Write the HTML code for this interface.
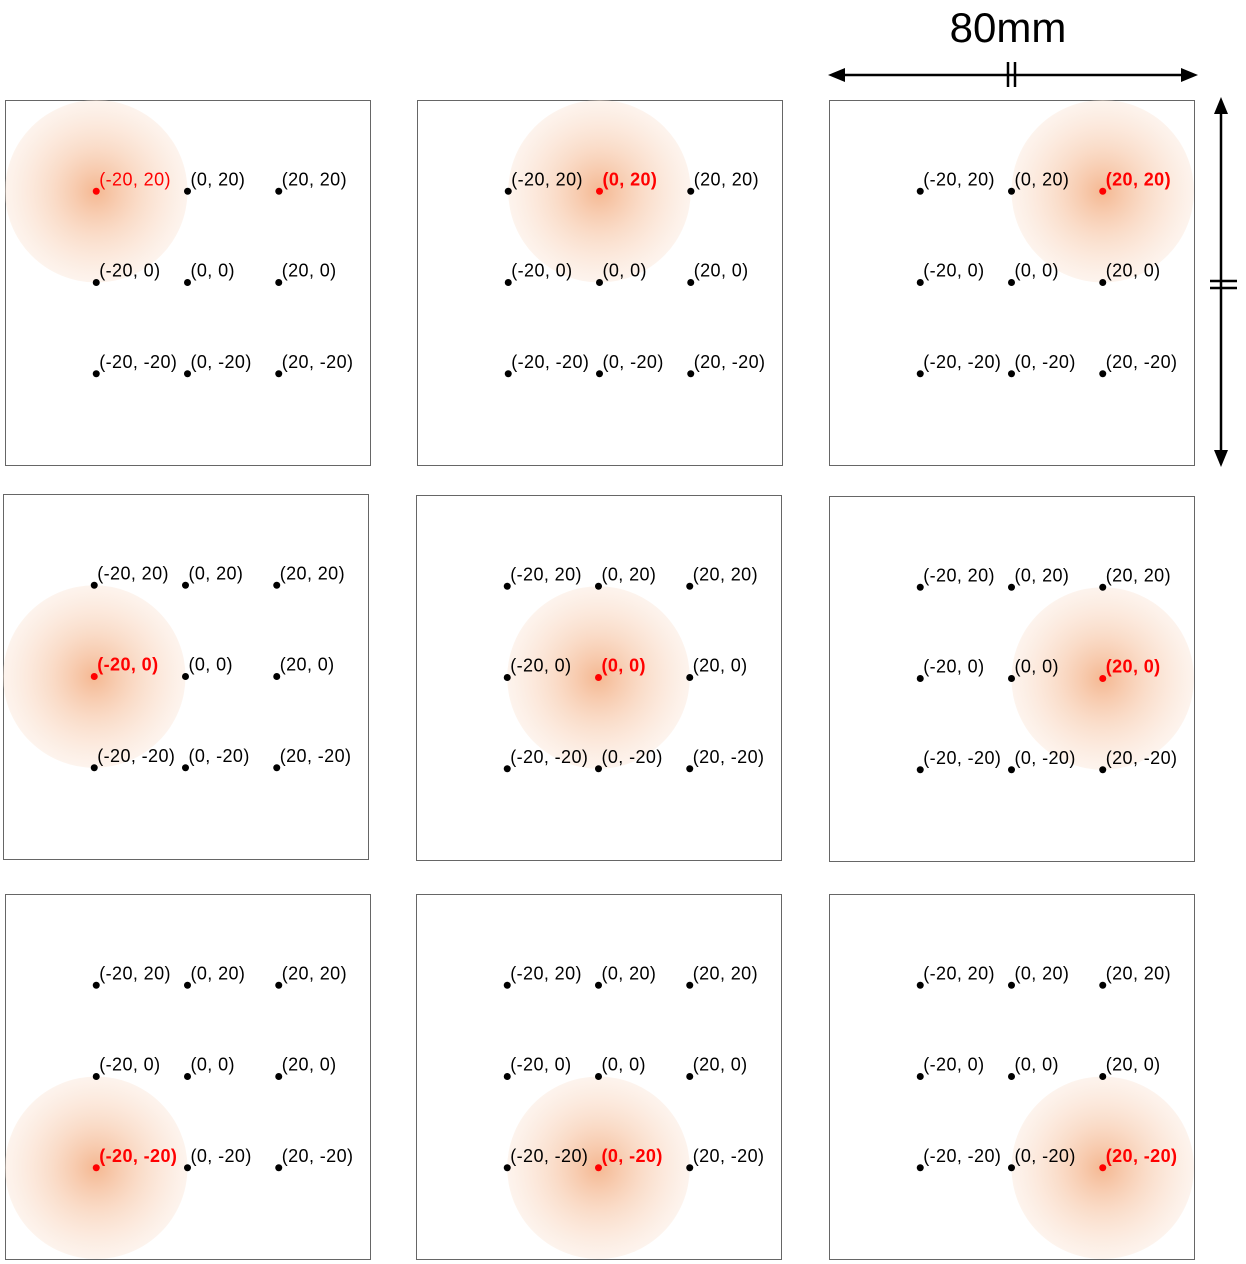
<!DOCTYPE html>
<html><head><meta charset="utf-8">
<style>
html,body{margin:0;padding:0;background:#fff;}
svg{display:block;font-family:"Liberation Sans","DejaVu Sans",sans-serif;}
</style></head>
<body>
<svg id="chart" width="1246" height="1264" viewBox="0 0 1246 1264" xmlns="http://www.w3.org/2000/svg">
<defs>
<radialGradient id="glow" cx="50%" cy="50%" r="50%">
<stop offset="0" stop-color="#f4b48c" stop-opacity="0.95"/>
<stop offset="0.5" stop-color="#f8cfb4" stop-opacity="0.7"/>
<stop offset="1" stop-color="#fbe6d8" stop-opacity="0.45"/>
</radialGradient>
</defs>
<g>
<text x="1008" y="42" font-size="42" text-anchor="middle" fill="#000">80mm</text>
<line x1="840" y1="75" x2="1186" y2="75" stroke="#000" stroke-width="2.5"/>
<polygon points="828,75 845,68 845,82" fill="#000"/>
<polygon points="1198,75 1181,68 1181,82" fill="#000"/>
<line x1="1008" y1="62" x2="1008" y2="87" stroke="#000" stroke-width="2.5"/>
<line x1="1015" y1="62" x2="1015" y2="87" stroke="#000" stroke-width="2.5"/>
</g>
<g>
<line x1="1221" y1="108" x2="1221" y2="455" stroke="#000" stroke-width="2.5"/>
<polygon points="1221,97 1214,114 1228,114" fill="#000"/>
<polygon points="1221,467 1214,450 1228,450" fill="#000"/>
<line x1="1210" y1="281" x2="1237" y2="281" stroke="#000" stroke-width="2.5"/>
<line x1="1210" y1="288" x2="1237" y2="288" stroke="#000" stroke-width="2.5"/>
</g>
<g id="panels"></g>
</svg>
<script>
// coordinates in mm
const xValues = [-20, 0, 20];
const yValues = [20, 0, -20];
const highlightX = [-20, 0, 20, -20, 0, 20, -20, 0, 20];
const highlightY = [20, 20, 20, 0, 0, 0, -20, -20, -20];
const panelLeft = [5, 417, 829, 3, 416, 829, 5, 416, 829];
const panelTop = [100, 100, 100, 494, 495, 496, 894, 894, 894];
const panelMM = 80;
const circleDiameterMM = 40;

const SIZE = 365;
const scale = SIZE / panelMM;
const NS = "http://www.w3.org/2000/svg";
const root = document.getElementById('panels');
function mk(tag, attrs, parent){
  const e = document.createElementNS(NS, tag);
  for (const k in attrs) e.setAttribute(k, attrs[k]);
  parent.appendChild(e);
  return e;
}
function sx(p, v){ return panelLeft[p] + SIZE/2 + v*scale; }
function sy(p, v){ return panelTop[p] + SIZE/2 - v*scale; }

for (let p = 0; p < panelLeft.length; p++){
  const g = mk('g', {}, root);
  
  
  const r = mk('rect', {x: panelLeft[p]+0.5, y: panelTop[p]+0.5, width: SIZE, height: SIZE, fill: '#fff', stroke: '#666', 'stroke-width': 1}, g);
  
  
  const c = mk('circle', {cx: sx(p, highlightX[p]), cy: sy(p, highlightY[p]), r: circleDiameterMM/2*scale, fill: 'url(#glow)'}, g);
  
  
  for (const yv of yValues){
    for (const xv of xValues){
      const hi = (xv === highlightX[p] && yv === highlightY[p]);
      const cx = sx(p, xv), cy = sy(p, yv);
      const d = mk('circle', {cx: cx, cy: cy, r: 3.5, fill: hi ? '#ff0000' : '#000'}, g);
      
      
      const t = mk('text', {x: cx + 3, y: cy - 6, 'font-size': 18, 'letter-spacing': 0.4, fill: hi ? '#ff0000' : '#000', 'font-weight': (hi && p > 0) ? 'bold' : 'normal'}, g);
      t.textContent = '(' + xv + ', ' + yv + ')';
      
      
    }
  }
}
</script>
</body></html>
